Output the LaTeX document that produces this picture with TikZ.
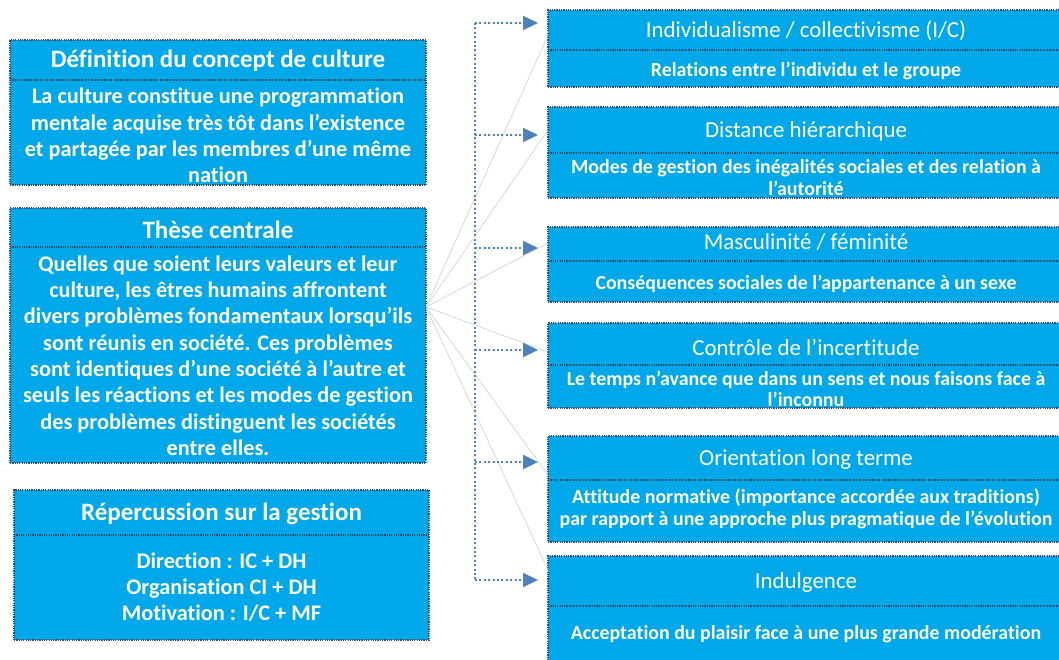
\documentclass[tikz,border=0pt]{standalone}
\usepackage{fontspec}
\setmainfont{Carlito}[Ligatures=NoCommon]
\usetikzlibrary{arrows.meta}
\definecolor{boxblue}{RGB}{0,168,234}
\definecolor{edgecol}{RGB}{55,75,105}
\definecolor{conncol}{RGB}{79,129,189}
\definecolor{raycol}{RGB}{205,205,205}
\begin{document}
\begin{tikzpicture}[x=1pt,y=-1pt,
  box/.style={fill=boxblue, draw=edgecol, line width=1.2pt, dash pattern=on 1.2pt off 1.1pt, inner sep=0pt, outer sep=0pt},
  sepline/.style={draw=edgecol, line width=1.2pt, dash pattern=on 1.2pt off 1.1pt},
  ltitle/.style={text=white, font=\fontsize{25}{29}\selectfont\bfseries, inner sep=0pt},
  lbody/.style={text=white, font=\fontsize{22.3}{26.3}\selectfont\bfseries, align=center, inner sep=0pt},
  rtitle/.style={text=white, font=\fontsize{22.9}{26}\selectfont, inner sep=0pt},
  rbody/.style={text=white, font=\fontsize{19.9}{21.6}\selectfont\bfseries, align=center, inner sep=0pt},
  spine/.style={draw=conncol, line width=2pt, dash pattern=on 2pt off 2.4pt},
  arr/.style={spine, -{Triangle[length=15pt,width=14pt]}},
  rayline/.style={draw=raycol, line width=0.6pt}]
\useasboundingbox (0,0) rectangle (1059,659);

% ---------- left boxes ----------
\node[box, minimum width=416pt, minimum height=145pt] (L1) at (218,112.5) {};
\draw[sepline] (L1.west |- 0,80) -- (L1.east |- 0,80);
\node[ltitle] (L1t) at (218,61) {Définition du concept de culture};
\node[lbody] (L1b) at (218,135.5) {La culture constitue une programmation\\mentale acquise très tôt dans l’existence\\et partagée par les membres d’une même\\nation};

\node[box, minimum width=416pt, minimum height=255pt] (L2) at (218,335.5) {};
\draw[sepline] (L2.west |- 0,247) -- (L2.east |- 0,247);
\node[ltitle] (L2t) at (218,230) {Thèse centrale};
\node[lbody] (L2b) at (218,355.5) {Quelles que soient leurs valeurs et leur\\culture, les êtres humains affrontent\\divers problèmes fondamentaux lorsqu’ils\\sont réunis en société. Ces problèmes\\sont identiques d’une société à l’autre et\\seuls les réactions et les modes de gestion\\des problèmes distinguent les sociétés\\entre elles.};

\node[box, minimum width=415pt, minimum height=150pt] (L3) at (221.5,565) {};
\draw[sepline] (L3.west |- 0,535) -- (L3.east |- 0,535);
\node[ltitle] (L3t) at (221.5,514) {Répercussion sur la gestion};
\node[lbody] (L3b) at (221.5,587) {Direction : IC + DH\\Organisation CI + DH\\Motivation : I/C + MF};

% ---------- right boxes ----------
\node[box, minimum width=516pt, minimum height=77pt] (R1) at (806,48.5) {};
\draw[sepline] (R1.west |- 0,50) -- (R1.east |- 0,50);
\node[rtitle] (R1t) at (806,31) {Individualisme / collectivisme (I/C)};
\node[rbody] (R1b) at (806,71) {Relations entre l’individu et le groupe};

\node[box, minimum width=516pt, minimum height=91pt] (R2) at (806,152.5) {};
\draw[sepline] (R2.west |- 0,153) -- (R2.east |- 0,153);
\node[rtitle] (R2t) at (806,131) {Distance hiérarchique};
\node[rbody] (R2b) at (806,177.5) {Modes de gestion des inégalités sociales et des relation à\\l’autorité};

\node[box, minimum width=516pt, minimum height=75pt] (R3) at (806,264.5) {};
\draw[sepline] (R3.west |- 0,261) -- (R3.east |- 0,261);
\node[rtitle] (R3t) at (806,242) {Masculinité / féminité};
\node[rbody] (R3b) at (806,284) {Conséquences sociales de l’appartenance à un sexe};

\node[box, minimum width=516pt, minimum height=85pt] (R4) at (806,365.5) {};
\draw[sepline] (R4.west |- 0,365) -- (R4.east |- 0,365);
\node[rtitle] (R4t) at (806,348) {Contrôle de l’incertitude};
\node[rbody] (R4b) at (806,389) {Le temps n’avance que dans un sens et nous faisons face à\\l’inconnu};

\node[box, minimum width=516pt, minimum height=106pt] (R5) at (806,489) {};
\draw[sepline] (R5.west |- 0,480) -- (R5.east |- 0,480);
\node[rtitle] (R5t) at (806,460) {Orientation long terme};
\node[rbody] (R5b) at (806,509) {Attitude normative (importance accordée aux traditions)\\par rapport à une approche plus pragmatique de l’évolution};

\node[box, minimum width=516pt, minimum height=114pt] (R6) at (806,613) {};
\draw[sepline] (R6.west |- 0,606) -- (R6.east |- 0,606);
\node[rtitle] (R6t) at (806,583) {Indulgence};
\node[rbody] (R6b) at (806,634) {Acceptation du plaisir face à une plus grande modération};

% ---------- thin rays ----------
\coordinate (hub) at (L2.east |- 0,307);
\draw[rayline] (hub) -- (R1.west |- 0,35);
\draw[rayline] (hub) -- (R2.west |- 0,130);
\draw[rayline] (hub) -- (R3.west |- 0,243);
\draw[rayline] (hub) -- (R4.west |- 0,352);
\draw[rayline] (hub) -- (R5.west |- 0,475);
\draw[rayline] (hub) -- (R6.west |- 0,570);

% ---------- dotted spine and arrows ----------
\coordinate (s1) at (475,23);
\coordinate (s2) at (475,135);
\coordinate (s3) at (475,248);
\coordinate (s4) at (475,350);
\coordinate (s5) at (475,462);
\coordinate (s6) at (475,580);
\coordinate (t1) at (538,23);
\coordinate (t2) at (538,135);
\coordinate (t3) at (538,248);
\coordinate (t4) at (538,350);
\coordinate (t5) at (538,462);
\coordinate (t6) at (538,580);
\draw[spine] (s1) -- (s6);
\draw[arr] (s1) -- (t1);
\draw[arr] (s2) -- (t2);
\draw[arr] (s3) -- (t3);
\draw[arr] (s4) -- (t4);
\draw[arr] (s5) -- (t5);
\draw[arr] (s6) -- (t6);
\end{tikzpicture}
\end{document}
